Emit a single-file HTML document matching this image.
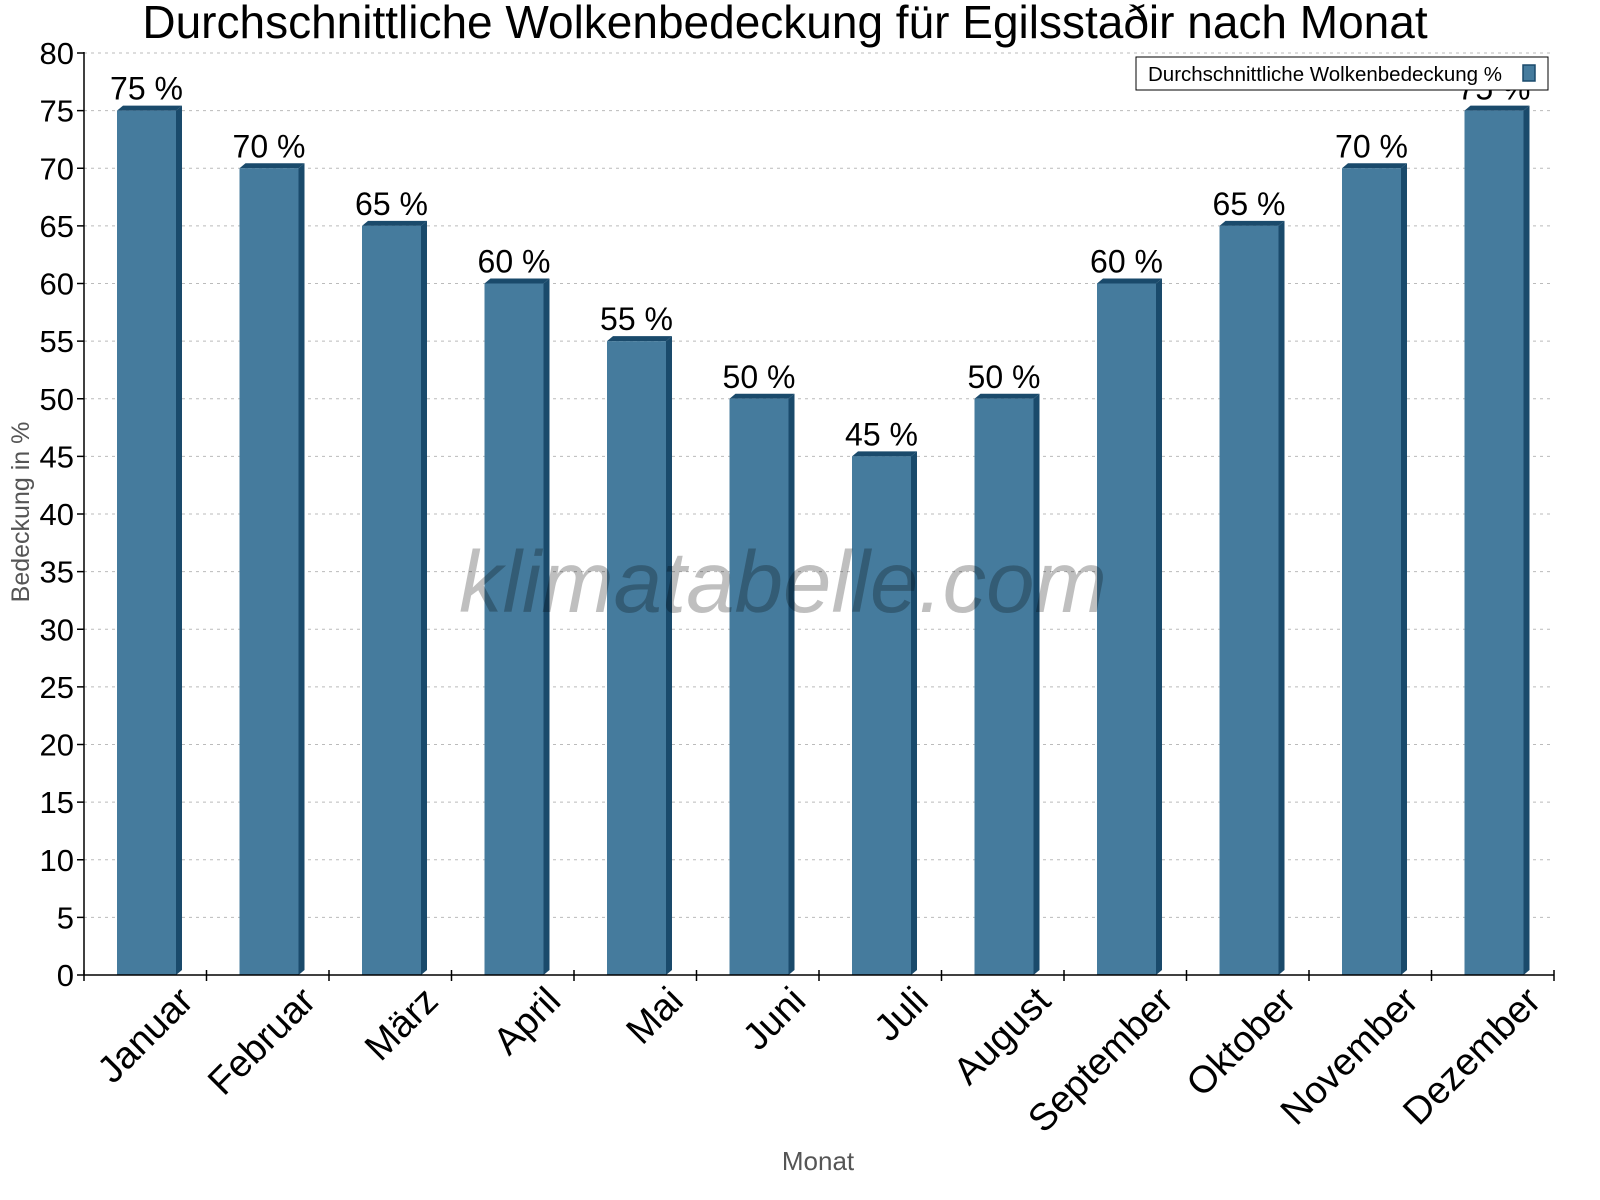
<!DOCTYPE html>
<html><head><meta charset="utf-8"><style>body{margin:0;background:#fff}svg{display:block;font-family:"Liberation Sans",sans-serif}</style></head>
<body>
<svg width="1600" height="1200">
<text x="785" y="38" font-size="46" text-anchor="middle">Durchschnittliche Wolkenbedeckung für Egilsstaðir nach Monat</text>
<g id="grid"></g>
<g id="bars"></g>
<text x="783" y="612" font-size="87" font-style="italic" fill="#000" fill-opacity="0.25" text-anchor="middle">klimatabelle.com</text>
<line x1="84" y1="52" x2="84" y2="975" stroke="#000" stroke-width="1.5"/>
<line x1="84" y1="975" x2="1554" y2="975" stroke="#000" stroke-width="1.5"/>
<g id="ticks"></g>
<text transform="translate(29,512) rotate(-90)" font-size="25" fill="#555" text-anchor="middle">Bedeckung in %</text>
<text x="818" y="1170" font-size="26" fill="#555" text-anchor="middle">Monat</text>
<g>
<rect x="1136" y="57" width="412" height="33" fill="#fff" stroke="#000" stroke-width="1"/>
<text x="1148" y="81" font-size="20.5">Durchschnittliche Wolkenbedeckung %</text>
<rect x="1523" y="65" width="12" height="16" fill="#457b9d" stroke="#1a4a6b" stroke-width="1.5"/>
</g>
</svg>
<script>
const categories=["Januar","Februar","März","April","Mai","Juni","Juli","August","September","Oktober","November","Dezember"];
const values=[75,70,65,60,55,50,45,50,60,65,70,75];
const yTicks=[0,5,10,15,20,25,30,35,40,45,50,55,60,65,70,75,80];
const NS="http://www.w3.org/2000/svg";
const x0=84,x1=1554,y0=975,yTop=53,yMax=80;
const bw=(x1-x0)/categories.length;
function y(v){return y0-(y0-yTop)*v/yMax;}
function mk(t,a,p){const e=document.createElementNS(NS,t);for(const k in a)e.setAttribute(k,a[k]);p.appendChild(e);return e;}
const grid=document.getElementById('grid'),bars=document.getElementById('bars'),ticks=document.getElementById('ticks');
yTicks.forEach(v=>{
  if(v>0){const l=mk('line',{x1:x0,x2:x1,y1:y(v),y2:y(v),stroke:'#bbb','stroke-dasharray':'3,4'},grid);
  
  }
  mk('line',{x1:x0-7,x2:x0,y1:y(v),y2:y(v),stroke:'#000','stroke-width':1.5},ticks);
  const t=mk('text',{x:x0-10,y:y(v)+11,'font-size':31,'text-anchor':'end'},ticks);t.textContent=v;
  
  
});
for(let i=0;i<=categories.length;i++){mk('line',{x1:x0+i*bw,x2:x0+i*bw,y1:y0-5,y2:y0+6,stroke:'#000','stroke-width':1.5},ticks);}
categories.forEach((c,i)=>{
  const bx=x0+i*bw+33,w=59,d=6,top=y(values[i]);
  const g=mk('g',{},bars);
  
  
  mk('polygon',{points:`${bx+w},${top} ${bx+w+d},${top-5} ${bx+w+d},${y0-5} ${bx+w},${y0}`,fill:'#1a4a6b'},g);
  mk('polygon',{points:`${bx},${top} ${bx+d},${top-5} ${bx+w+d},${top-5} ${bx+w},${top}`,fill:'#1a4a6b'},g);
  mk('rect',{x:bx,y:top,width:w,height:y0-top,fill:'#457b9d'},g);
  const vl=mk('text',{x:bx+w/2,y:top-11,'font-size':32,'text-anchor':'middle'},bars);vl.textContent=values[i]+' %';
  
  
  const cx=x0+i*bw+bw/2+50;
  const tl=mk('text',{transform:`translate(${cx},${y0+28}) rotate(-45)`,'font-size':38,'text-anchor':'end'},ticks);tl.textContent=c;
  
  
});
</script>
</body></html>
